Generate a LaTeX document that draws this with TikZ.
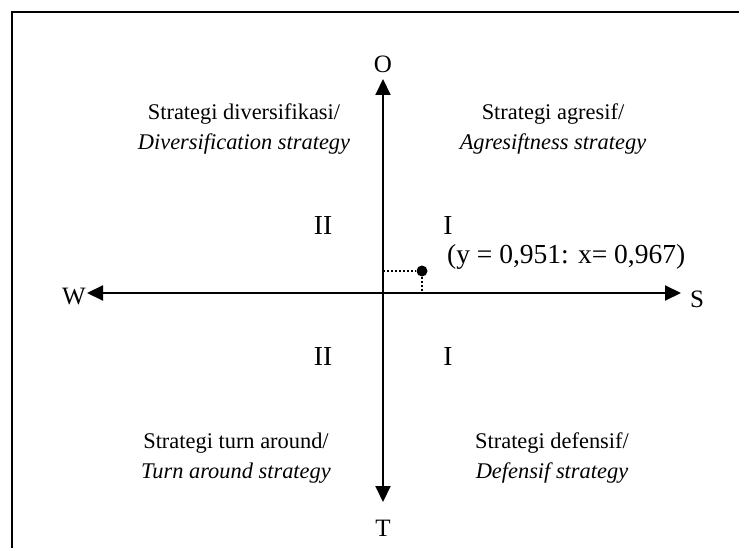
\documentclass[tikz,border=0pt]{standalone}
\usepackage{fontspec}
\setmainfont{Liberation Serif}
\usepackage{tikz}
\usetikzlibrary{arrows.meta,positioning,calc}
\newcommand{\qfont}{\fontsize{22.4}{30}\selectfont}
\newcommand{\afont}{\fontsize{25}{30}\selectfont}
\newcommand{\vfont}{\fontsize{27.5}{33}\selectfont}

\begin{document}
\begin{tikzpicture}[x=1pt,y=-1pt,
    axis/.style={line width=2pt,{Triangle[length=16pt,width=15pt]}-{Triangle[length=16pt,width=15pt]}},
    lbl/.style={font=\vfont,inner sep=0pt},
    dir/.style={font=\afont,inner sep=0pt},
    quad/.style={font=\qfont,align=center,inner sep=0pt},
    guide/.style={line width=2pt,dotted}]
  \useasboundingbox (0,0) rectangle (739,548);
  \draw[line width=2.6pt] (12,548) -- (12,12) -- (739,12);
  % axes
  \coordinate (top) at (383,79);
  \coordinate (bot) at (383,502);
  \coordinate (lft) at (87,293);
  \coordinate (rgt) at (681,293);
  \draw[axis] (bot) -- (top);
  \draw[axis] (lft) -- (rgt);
  \node[dir,anchor=south] (O) at ($(top)+(0,-6)$) {O};
  \node[dir,anchor=north] (T) at ($(bot)+(0,18)$) {T};
  \node[dir,anchor=east] (W) at ($(lft)+(-1,4)$) {W};
  \node[dir,anchor=west] (S) at ($(rgt)+(9,6)$) {S};
  % quadrants
  \node[quad] (q2) at (244,129) {Strategi diversifikasi/\\\textit{Diversification strategy}};
  \node[quad] (q1) at (553,129) {Strategi agresif/\\\textit{Agresiftness strategy}};
  \node[quad] (q3) at (236,458) {Strategi turn around/\\\textit{Turn around strategy}};
  \node[quad] (q4) at (552,458) {Strategi defensif/\\\textit{Defensif strategy}};
  \node[lbl] (n2) at (323,225) {II};
  \node[lbl] (n1) at (448,225) {I};
  \node[lbl] (n3) at (323,356) {II};
  \node[lbl] (n4) at (448,356) {I};
  % position
  \node[circle,fill,inner sep=0pt,minimum size=11pt] (pt) at (422,271) {};
  \coordinate (px) at (383,271);
  \coordinate (py) at (422,291);
  \draw[guide] (px) -- (pt);
  \draw[guide] (pt) -- (py);
  \node[lbl,anchor=west] (val) at (447,257) {(y = 0,951: x= 0,967)};
\end{tikzpicture}
\end{document}
